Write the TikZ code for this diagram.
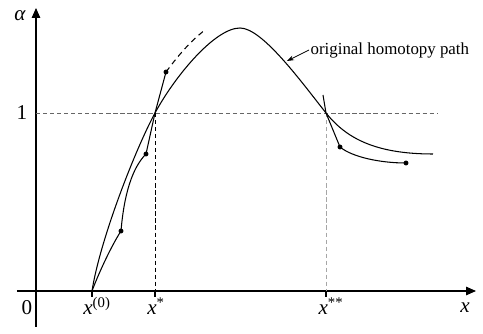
\documentclass[tikz,border=0pt]{standalone}
\usepackage{fontspec}
\setmainfont{Liberation Serif}
\usetikzlibrary{positioning, arrows.meta, calc}

\begin{document}
\begin{tikzpicture}[
  x=0.025cm, y=-0.025cm,
  font=\fontsize{15}{17}\selectfont,
  axis/.style={line width=0.8pt, -{Triangle[length=7pt, width=6pt]}},
  path/.style={line width=0.75pt},
  guide/.style={line width=0.5pt, dash pattern=on 3pt off 2pt},
  tick/.style={line width=1.2pt},
  pt/.style={circle, fill=black, inner sep=0pt, minimum size=3.5pt},
  lbl/.style={inner sep=1pt}
]
\useasboundingbox (0,0) rectangle (483,334);

% axes
\coordinate (ybot) at (36,327);
\coordinate (ytop) at (36,8);
\coordinate (xlft) at (17,291);
\coordinate (xrgt) at (476,291);
\draw[axis] (ybot) -- (ytop);
\draw[axis] (xlft) -- (xrgt);

% points on the x axis and the level alpha = 1
\coordinate (x0)  at (92,291);
\coordinate (xs)  at (155,291);
\coordinate (xss) at (326,291);
\coordinate (a1)  at (36,113);
\coordinate (a1r) at (438,113);
\coordinate (c1)  at (155,113);
\coordinate (c2)  at (326,113);

% guide lines
\draw[guide, gray!80!black] (a1) -- (a1r);
\draw[guide] (c1) -- (xs);
\draw[guide, gray!70] (c2) -- (xss);
\foreach \p in {x0, xs, xss}
  \draw[tick] (\p) -- ++(0,6);

% labels
\node[lbl] (lalpha) at (20,16)  {\textit{α}};
\node[lbl] (lone)   at (22,113) {1};
\node[lbl] (lzero)  at (27,308) {0};
\node[lbl] (lx0)    at (97,306) {\textit{x}\textsuperscript{(0)}};
\node[lbl] (lxs)    at (156,306) {\textit{x}\textsuperscript{*}};
\node[lbl] (lxss)   at (331,306) {\textit{x}\textsuperscript{**}};
\node[lbl] (lx)     at (465,308) {\textit{x}};

% original homotopy path
\coordinate (peak) at (240,28);
\coordinate (tail) at (433,154);
\draw[path] (x0) .. controls (100,240) and (135,150) .. (c1)
  .. controls (175,76) and (215,28) .. (peak)
  .. controls (262,28) and (300,80) .. (c2)
  .. controls (346,138) and (375,154) .. (tail);

\node[lbl, anchor=west, font=\fontsize{12}{14}\selectfont] (lorig) at (309,50) {original homotopy path};
\coordinate (onpath) at (287,61);
\draw[line width=0.6pt, -{Stealth[length=5pt, width=3.5pt]}] (lorig.west) -- (onpath);

% steps of the left branch
\node[pt] (p1) at (121,231) {};
\node[pt] (p2) at (146,154) {};
\node[pt] (p3) at (166,72) {};
\coordinate (p4) at (205,30);
\draw[path] (x0) .. controls (100,270) and (112,245) .. (p1.center)
  .. controls (124,195) and (132,168) .. (p2.center)
  -- (c1) -- (p3.center);
\draw[path, dash pattern=on 4pt off 3pt] (p3.center) .. controls (180,53) and (192,40) .. (p4);

% steps of the right branch
\coordinate (q0) at (323,95);
\node[pt] (q1) at (340,147) {};
\node[pt] (q2) at (406,163) {};
\draw[path] (q0) -- (c2) -- (q1.center)
  .. controls (352,157) and (380,163) .. (q2.center);

\end{tikzpicture}
\end{document}
